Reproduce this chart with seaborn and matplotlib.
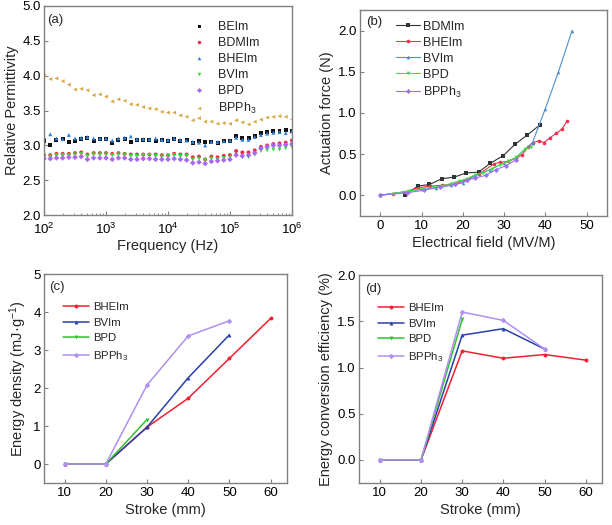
import numpy as np
import pandas as pd
import matplotlib
matplotlib.use("Agg")
import matplotlib.pyplot as plt
import seaborn as sns
from matplotlib.ticker import LogLocator, MultipleLocator, NullFormatter

# ---------------- data ----------------
# (a) relative permittivity vs frequency (10 points per decade, 1e2..1e6)
freq_exp = [2 + 0.1 * k for k in range(41)]
eps_BEIm = [3.06, 3.01, 3.08, 3.09, 3.05, 3.06, 3.09, 3.10, 3.06, 3.09, 3.09,
            3.04, 3.08, 3.09, 3.05, 3.08, 3.08, 3.08, 3.07, 3.08, 3.07,
            3.09, 3.07, 3.08, 3.03, 3.06, 3.05, 3.05, 3.03, 3.06, 3.06,
            3.13, 3.11, 3.10, 3.14, 3.18, 3.19, 3.20, 3.20, 3.22, 3.20]
eps_BDMIm = [2.86, 2.86, 2.88, 2.88, 2.88, 2.89, 2.90, 2.87, 2.89, 2.89, 2.89,
             2.88, 2.89, 2.88, 2.87, 2.87, 2.87, 2.87, 2.87, 2.86, 2.86,
             2.88, 2.87, 2.87, 2.83, 2.84, 2.80, 2.84, 2.83, 2.85, 2.86,
             2.92, 2.90, 2.90, 2.93, 2.98, 3.00, 3.02, 3.03, 3.04, 3.07]
eps_BHEIm = [3.12, 3.16, 3.10, 3.09, 3.15, 3.10, 3.11, 3.12, 3.10, 3.10, 3.10,
             3.07, 3.10, 3.11, 3.13, 3.09, 3.09, 3.09, 3.10, 3.08, 3.08,
             3.10, 3.08, 3.07, 3.05, 3.04, 3.00, 3.05, 3.05, 3.06, 3.07,
             3.11, 3.08, 3.08, 3.12, 3.15, 3.17, 3.18, 3.19, 3.18, 3.20]
eps_BVIm = [2.85, 2.84, 2.86, 2.86, 2.86, 2.87, 2.88, 2.85, 2.87, 2.87, 2.87,
            2.86, 2.87, 2.87, 2.85, 2.85, 2.86, 2.86, 2.85, 2.84, 2.85,
            2.86, 2.85, 2.85, 2.80, 2.81, 2.79, 2.81, 2.80, 2.82, 2.83,
            2.86, 2.83, 2.83, 2.87, 2.92, 2.93, 2.94, 2.94, 2.96, 2.98]
eps_BPD = [2.81, 2.81, 2.82, 2.82, 2.83, 2.83, 2.84, 2.80, 2.82, 2.82, 2.82,
           2.80, 2.82, 2.82, 2.80, 2.80, 2.81, 2.81, 2.80, 2.80, 2.80,
           2.81, 2.80, 2.79, 2.75, 2.76, 2.74, 2.77, 2.78, 2.79, 2.80,
           2.86, 2.85, 2.86, 2.89, 2.96, 2.98, 3.00, 3.00, 3.01, 3.02]
eps_BPPh3 = [4.00, 3.95, 3.96, 3.92, 3.87, 3.80, 3.81, 3.79, 3.72, 3.73, 3.70,
             3.63, 3.66, 3.64, 3.59, 3.58, 3.55, 3.53, 3.52, 3.48, 3.47,
             3.47, 3.43, 3.41, 3.36, 3.39, 3.34, 3.34, 3.31, 3.32, 3.31,
             3.36, 3.33, 3.30, 3.34, 3.37, 3.40, 3.41, 3.42, 3.41, 3.37]

# (b) actuation force vs electrical field
b_BDMIm_x = [6.0, 9.0, 11.9, 14.9, 17.9, 20.8, 23.8, 26.7, 29.8, 32.7, 35.6, 38.6]
b_BDMIm_y = [0.0, 0.11, 0.13, 0.20, 0.22, 0.27, 0.28, 0.39, 0.48, 0.62, 0.73, 0.85]
b_BHEIm_x = [0, 3, 6, 9, 12, 15, 18, 21, 24, 27.5, 29, 31, 33, 34.3, 35.8, 37, 38.4, 39.7, 41.2, 42.6, 44, 45.3]
b_BHEIm_y = [0, 0.02, 0.04, 0.09, 0.11, 0.12, 0.14, 0.19, 0.26, 0.38, 0.40, 0.41, 0.45, 0.49, 0.58, 0.64, 0.66, 0.64, 0.70, 0.75, 0.80, 0.90]
b_BVIm_x = [0, 7, 10, 13.5, 17, 20, 23, 26.5, 30, 33, 36.9, 40, 43.2, 46.5]
b_BVIm_y = [0, 0.05, 0.07, 0.09, 0.12, 0.15, 0.24, 0.31, 0.39, 0.46, 0.64, 1.05, 1.50, 2.00]
b_BPD_x = [0, 3, 7, 10, 13, 15, 17, 19, 21, 23, 25, 27, 29, 31, 33, 35, 36.5]
b_BPD_y = [0, 0.02, 0.05, 0.08, 0.10, 0.11, 0.14, 0.17, 0.20, 0.25, 0.27, 0.32, 0.37, 0.41, 0.46, 0.56, 0.58]
b_BPPh3_x = [0, 6.5, 10.5, 14.5, 18, 21, 23, 25.5, 28, 30.5, 33]
b_BPPh3_y = [0, 0.03, 0.06, 0.10, 0.13, 0.18, 0.21, 0.24, 0.31, 0.36, 0.43]

# (c) energy density / (d) conversion efficiency vs stroke
stroke = [10, 20, 30, 40, 50, 60]
c_BHEIm = [0, 0, 0.97, 1.73, 2.78, 3.83]
c_BVIm = [0, 0, 0.97, 2.27, 3.40]
c_BPD = [0, 0, 1.17]
c_BPPh3 = [0, 0, 2.08, 3.37, 3.77]
d_BHEIm = [0, 0, 1.18, 1.10, 1.14, 1.08]
d_BVIm = [0, 0, 1.35, 1.42, 1.20]
d_BPD = [0, 0, 1.52]
d_BPPh3 = [0, 0, 1.60, 1.51, 1.20]

# ---------------- style ----------------
sns.set_style("ticks")
plt.rcParams["font.family"] = ["Liberation Sans", "DejaVu Sans"]
plt.rcParams["mathtext.fontset"] = "custom"
plt.rcParams["mathtext.rm"] = "Liberation Sans"
plt.rcParams["mathtext.it"] = "Liberation Sans:italic"
plt.rcParams["mathtext.default"] = "regular"
frame = "#808080"
plt.rcParams.update({
    "axes.edgecolor": frame, "axes.linewidth": 1.0,
    "xtick.direction": "in", "ytick.direction": "in",
    "xtick.color": frame, "ytick.color": frame,
    "xtick.labelcolor": "black", "ytick.labelcolor": "black",
    "xtick.major.size": 3, "ytick.major.size": 3,
    "xtick.minor.size": 1.8, "ytick.minor.size": 1.8,
    "xtick.major.pad": 3, "ytick.major.pad": 2.5,
    "xtick.labelsize": 9.5, "ytick.labelsize": 9.5,
    "axes.labelsize": 10.5, "legend.fontsize": 9,
    "axes.labelpad": 3,
})

fig = plt.figure(figsize=(6.12, 5.25), dpi=100)
axA = fig.add_axes([0.072, 0.590, 0.405, 0.399])
axB = fig.add_axes([0.588, 0.589, 0.404, 0.392])
axC = fig.add_axes([0.072, 0.080, 0.397, 0.398])
axD = fig.add_axes([0.587, 0.080, 0.397, 0.396])

sub3 = "BPPh$_3$"

# ---- (a) ----
freq = [10 ** e for e in freq_exp]
series_a = [("BEIm", eps_BEIm, "#111111", "s"),
            ("BDMIm", eps_BDMIm, "#F02848", "o"),
            ("BHEIm", eps_BHEIm, "#2A7FD8", "^"),
            ("BVIm", eps_BVIm, "#30E030", "v"),
            ("BPD", eps_BPD, "#A868F0", "D"),
            (sub3, eps_BPPh3, "#D8A848", "<")]
for name, vals, col, mk in series_a:
    sns.scatterplot(x=freq, y=vals, ax=axA, color=col, marker=mk, s=8,
                    edgecolor="none", label=name)
axA.set_xscale("log")
axA.set_xlim(1e2, 1e6)
axA.set_ylim(2.0, 5.0)
axA.yaxis.set_major_locator(MultipleLocator(0.5))
axA.xaxis.set_minor_locator(LogLocator(base=10, subs=np.arange(2, 10)))
axA.xaxis.set_minor_formatter(NullFormatter())
axA.yaxis.set_major_formatter(matplotlib.ticker.FormatStrFormatter("%.1f"))
axA.tick_params(axis="x", which="major", pad=5)
axA.set_xlabel("Frequency (Hz)", labelpad=1)
axA.set_ylabel("Relative Permittivity", labelpad=2)
axA.legend(loc="upper right", bbox_to_anchor=(0.905, 0.97), frameon=False,
           handletextpad=0.5, labelspacing=0.32, markerscale=0.9, borderpad=0.2)
axA.text(0.012, 0.962, "(a)", transform=axA.transAxes, va="top", ha="left", fontsize=9.5)

# ---- (b) ----
series_b = [("BDMIm", b_BDMIm_x, b_BDMIm_y, "#333333", "s"),
            ("BHEIm", b_BHEIm_x, b_BHEIm_y, "#F03050", "o"),
            ("BVIm", b_BVIm_x, b_BVIm_y, "#4A90D0", "^"),
            ("BPD", b_BPD_x, b_BPD_y, "#40E040", "v"),
            (sub3, b_BPPh3_x, b_BPPh3_y, "#A070F0", "D")]
for name, xs, ys, col, mk in series_b:
    sns.lineplot(x=xs, y=ys, ax=axB, color=col, marker=mk, markersize=2.6,
                 markeredgewidth=0, linewidth=0.8, estimator=None, sort=False, label=name)
axB.set_xlim(-5, 55)
axB.set_ylim(-0.25, 2.25)
axB.xaxis.set_major_locator(MultipleLocator(10))
axB.yaxis.set_major_locator(MultipleLocator(0.5))
axB.yaxis.set_major_formatter(matplotlib.ticker.FormatStrFormatter("%.1f"))
axB.set_xlabel("Electrical field (MV/M)")
axB.set_ylabel("Actuation force (N)")
axB.legend(loc="upper left", bbox_to_anchor=(0.11, 0.99), frameon=False,
           handlelength=1.9, handletextpad=0.3, labelspacing=0.32, borderpad=0.2)
axB.text(0.024, 0.97, "(b)", transform=axB.transAxes, va="top", ha="left", fontsize=9.5)

# ---- (c) & (d) ----
cols_cd = {"BHEIm": "#F02030", "BVIm": "#2840A8", "BPD": "#30C030", sub3: "#B090F0"}
mk_cd = {"BHEIm": "o", "BVIm": "^", "BPD": "v", sub3: "D"}

def draw_cd(ax, data):
    for name, vals in data:
        sns.lineplot(x=stroke[:len(vals)], y=vals, ax=ax, color=cols_cd[name],
                     marker=mk_cd[name], markersize=2.8, markeredgewidth=0,
                     linewidth=1.1, estimator=None, sort=False, label=name)
    ax.set_xlim(5, 64)
    ax.xaxis.set_major_locator(MultipleLocator(10))
    ax.set_xlabel("Stroke (mm)")
    ax.legend(loc="upper left", bbox_to_anchor=(0.045, 0.905), frameon=False,
              fontsize=8.2, handlelength=2.3, handletextpad=0.35,
              labelspacing=0.5, borderpad=0.2)

draw_cd(axC, [("BHEIm", c_BHEIm), ("BVIm", c_BVIm), ("BPD", c_BPD), (sub3, c_BPPh3)])
axC.set_ylim(-0.5, 5)
axC.yaxis.set_major_locator(MultipleLocator(1))
axC.set_ylabel("Energy density (mJ·g$^{-1}$)")
axC.text(0.02, 0.967, "(c)", transform=axC.transAxes, va="top", ha="left", fontsize=9.5)

draw_cd(axD, [("BHEIm", d_BHEIm), ("BVIm", d_BVIm), ("BPD", d_BPD), (sub3, d_BPPh3)])
axD.set_ylim(-0.25, 2.0)
axD.yaxis.set_major_locator(MultipleLocator(0.5))
axD.yaxis.set_major_formatter(matplotlib.ticker.FormatStrFormatter("%.1f"))
axD.set_ylabel("Energy conversion efficiency (%)")
axD.text(0.025, 0.963, "(d)", transform=axD.transAxes, va="top", ha="left", fontsize=9.5)

for ax in (axA, axB, axC, axD):
    for sp in ax.spines.values():
        sp.set_visible(True)
        sp.set_color(frame)

fig.savefig("out.png", dpi=100)
